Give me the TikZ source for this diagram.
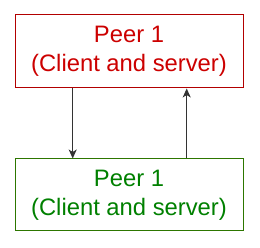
\documentclass[tikz,border=0pt]{standalone}
\usepackage{fontspec}
\setmainfont{Liberation Sans}
\usetikzlibrary{arrows.meta}
\definecolor{redtxt}{HTML}{CC0000}
\definecolor{redline}{HTML}{B20000}
\definecolor{greentxt}{HTML}{008000}
\definecolor{greenline}{HTML}{2D7600}
\definecolor{arrowc}{HTML}{333333}
\begin{document}
\begin{tikzpicture}[x=1pt,y=1pt,
  peerbox/.style={draw, line width=1pt, minimum width=228pt, minimum height=73pt, inner sep=0pt, align=center, font=\fontsize{23.8}{29}\selectfont},
  link/.style={draw=arrowc, line width=1pt, -{Stealth[length=9pt,width=8pt,inset=2.5pt]}}]
\useasboundingbox (0,0) rectangle (260,248);
\node[peerbox, draw=redline, text=redtxt] (top) at (129,196.5) {Peer 1\\(Client and server)};
\node[peerbox, draw=greenline, text=greentxt, minimum height=72pt] (bot) at (129,53) {Peer 1\\(Client and server)};
\draw[link] (top.south -| 72.7,0) -- (bot.north -| 72.7,0);
\draw[link] (bot.north -| 186.7,0) -- (top.south -| 186.7,0);
\end{tikzpicture}
\end{document}
